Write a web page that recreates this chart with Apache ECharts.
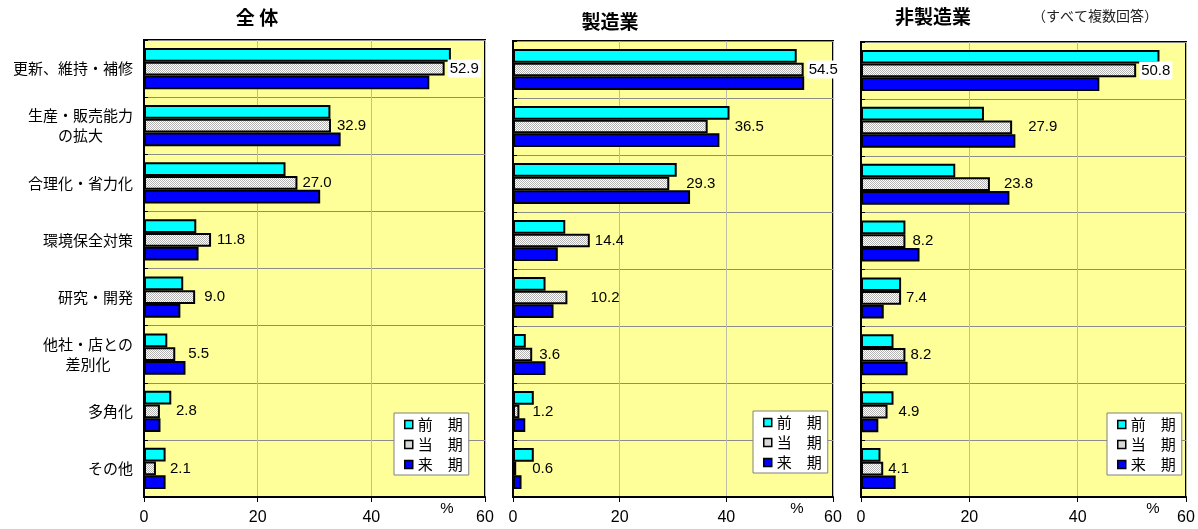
<!DOCTYPE html>
<html>
<head>
<meta charset="utf-8">
<script src="https://cdn.jsdelivr.net/npm/echarts@6/dist/echarts.min.js"></script>
<style>
  html, body { margin: 0; padding: 0; background: #ffffff; }
  #chart { width: 1198px; height: 529px; }
</style>
</head>
<body>
<div id="chart"></div>
<script>
// Investment purposes (multiple answers), % of respondents
const categories = [
  '更新、維持・補修',
  '生産・販売能力\nの拡大',
  '合理化・省力化',
  '環境保全対策',
  '研究・開発',
  '他社・店との\n差別化',
  '多角化',
  'その他'
];
const seriesNames = ['前　期', '当　期', '来　期'];
const panelTitles = ['全 体', '製造業', '非製造業'];
const xTicks = [0, 20, 40, 60];

// 全体
const totalPrev = [54.0, 32.8, 24.9, 9.2, 6.9, 4.1, 4.8, 3.8];
const totalCurr = [52.9, 32.9, 27.0, 11.8, 9.0, 5.5, 2.8, 2.1];
const totalNext = [50.2, 34.6, 31.0, 9.6, 6.4, 7.3, 2.9, 3.8];

// 製造業
const mfgPrev = [53.2, 40.6, 30.7, 9.8, 6.1, 2.4, 3.9, 3.9];
const mfgCurr = [54.5, 36.5, 29.3, 14.4, 10.2, 3.6, 1.2, 0.6];
const mfgNext = [54.6, 38.7, 33.2, 8.4, 7.6, 6.1, 2.3, 1.6];

// 非製造業
const nonMfgPrev = [55.1, 22.7, 17.4, 8.2, 7.4, 6.0, 6.0, 3.6];
const nonMfgCurr = [50.8, 27.9, 23.8, 8.2, 7.4, 8.2, 4.9, 4.1];
const nonMfgNext = [44.0, 28.5, 27.4, 10.8, 4.2, 8.6, 3.2, 6.4];

const panelValues = [
  [totalPrev, totalCurr, totalNext],
  [mfgPrev, mfgCurr, mfgNext],
  [nonMfgPrev, nonMfgCurr, nonMfgNext]
];

// ---- layout / styling ----
const gridBoxes = [
  { left: 144, top: 40, width: 341, height: 457 },
  { left: 513, top: 41, width: 320, height: 456 },
  { left: 861, top: 42, width: 325, height: 455 }
];
const legendBoxes = [
  { left: 394, top: 413 },
  { left: 753, top: 411 },
  { left: 1107, top: 413 }
];
// spacing between the 当期 bar end and its value label
const labelGaps = [
  [3, 6, 5, 6, 9, 13, 16, 14],
  [3, 27, 17, 5, 23, 7, 13, 16],
  [3, 16, 14, 7, 5, 5, 11, 5]
];
const titleSpots = [
  { x: 257, y: 18 },
  { x: 610, y: 22 },
  { x: 933, y: 17 }
];
const percentSpots = [
  { x: 447, y: 509 },
  { x: 797, y: 509 },
  { x: 1153, y: 509 }
];

const JP = "'Noto Sans CJK JP', sans-serif";
const NUM = "'Liberation Sans', Arial, sans-serif";

// dotted grey fill for 当期
function dotPattern() {
  const c = document.createElement('canvas');
  c.width = 2; c.height = 2;
  const g = c.getContext('2d');
  g.fillStyle = '#ffffff';
  g.fillRect(0, 0, 2, 2);
  g.fillStyle = '#b4b4b4';
  g.fillRect(0, 0, 1, 1);
  g.fillRect(1, 1, 1, 1);
  return { image: c, repeat: 'repeat' };
}
const fills = ['#00FFFF', dotPattern(), '#0000FF'];

const chart = echarts.init(document.getElementById('chart'), null, { renderer: 'canvas' });

const grids = gridBoxes.map(b => ({
  left: b.left, top: b.top, width: b.width, height: b.height,
  show: true, backgroundColor: '#FFFF99', borderColor: '#000000', borderWidth: 2,
  containLabel: false
}));

const xAxes = gridBoxes.map((b, i) => ({
  type: 'value', gridIndex: i,
  min: xTicks[0], max: xTicks[xTicks.length - 1], interval: xTicks[1] - xTicks[0],
  axisLine: { show: true, lineStyle: { color: '#000', width: 2 } },
  axisTick: { show: true, length: 5, lineStyle: { color: '#000', width: 1 } },
  axisLabel: { show: true, margin: 13, color: '#000', fontSize: 16, fontFamily: NUM },
  splitLine: { show: true, lineStyle: { color: '#bdbda5', width: 1 } }
}));

function wrapLines(text) {
  if (text.indexOf('\n') < 0) return text;
  return text.split('\n').map(s => '{c|' + s + '}').join('\n');
}

const yAxes = gridBoxes.map((b, i) => ({
  type: 'category', gridIndex: i, data: categories, inverse: true,
  axisLine: { show: true, lineStyle: { color: '#000', width: 2 } },
  axisTick: { show: true, inside: true, length: 4, lineStyle: { color: '#000', width: 1 } },
  axisLabel: {
    show: i === 0, margin: 11, color: '#000', fontSize: 15, fontFamily: JP,
    align: 'right', lineHeight: 20,
    formatter: wrapLines,
    rich: { c: { align: 'center', fontSize: 15, fontFamily: JP, color: '#000', lineHeight: 20 } }
  },
  splitLine: { show: true, lineStyle: { color: '#8c8c8c', width: 1 } }
}));

const series = [];
panelValues.forEach((group, pi) => {
  group.forEach((vals, si) => {
    const labelled = si === 1;
    series.push({
      type: 'bar',
      name: seriesNames[si],
      xAxisIndex: pi, yAxisIndex: pi,
      barGap: '0%', barCategoryGap: '28%',
      itemStyle: { color: fills[si], borderColor: '#000', borderWidth: 2 },
      emphasis: { disabled: true },
      label: {
        show: labelled, position: 'right', color: '#000',
        fontSize: 15, fontFamily: NUM,
        formatter: p => Number(p.value).toFixed(1)
      },
      data: vals.map((v, k) => labelled
        ? { value: v, label: { distance: labelGaps[pi][k],
            backgroundColor: k === 0 ? '#ffffff' : 'transparent', padding: k === 0 ? [2, 2, 1, 2] : 0 } }
        : v)
    });
  });
});

const legends = legendBoxes.map(p => ({
  data: seriesNames, orient: 'vertical', left: p.left, top: p.top,
  backgroundColor: '#ffffff', borderColor: '#808080', borderWidth: 1,
  padding: [4, 6, 3, 10], itemWidth: 8, itemHeight: 8, itemGap: 5,
  icon: 'rect', selectedMode: false,
  itemStyle: { borderColor: '#000', borderWidth: 1.5 },
  textStyle: { fontSize: 15, fontFamily: JP, color: '#000' }
}));

const texts = [];
panelTitles.forEach((t, i) => {
  texts.push({
    type: 'text', x: titleSpots[i].x, y: titleSpots[i].y,
    style: { text: t, fill: '#000', font: 'bold 19px ' + JP,
      align: 'center', verticalAlign: 'middle', textAlign: 'center', textVerticalAlign: 'middle' }
  });
});
texts.push({
  type: 'text', x: 1095, y: 16,
  style: { text: '（すべて複数回答）', fill: '#222', font: '14px ' + JP,
    align: 'center', verticalAlign: 'middle', textAlign: 'center', textVerticalAlign: 'middle' }
});
percentSpots.forEach(p => {
  texts.push({
    type: 'text', x: p.x, y: p.y,
    style: { text: '%', fill: '#000', font: '15px ' + NUM,
      align: 'center', verticalAlign: 'middle', textAlign: 'center', textVerticalAlign: 'middle' }
  });
});

chart.setOption({
  animation: false,
  backgroundColor: '#ffffff',
  grid: grids,
  xAxis: xAxes,
  yAxis: yAxes,
  legend: legends,
  series: series,
  graphic: texts
});
</script>
</body>
</html>
